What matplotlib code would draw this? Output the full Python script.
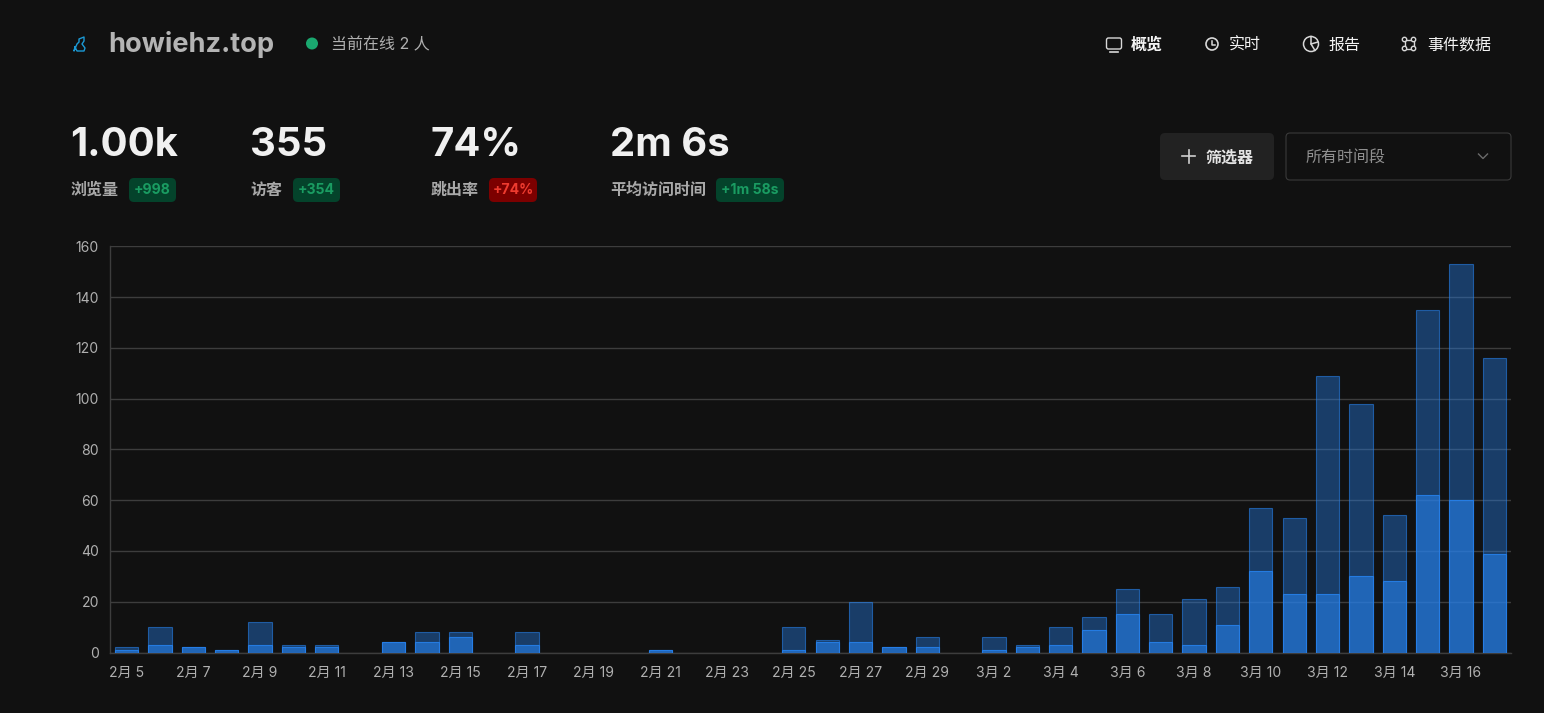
import matplotlib
matplotlib.use('Agg')
import matplotlib.pyplot as plt
import numpy as np
from matplotlib.patches import FancyBboxPatch, Circle, Rectangle

plt.rcParams['font.family'] = ['Inter', 'Noto Sans CJK SC', 'DejaVu Sans']

days = ['2月 %d' % d for d in range(5, 30)] + ['3月 %d' % d for d in range(1, 18)]
views = [2, 10, 2, 1, 12, 3, 3, 0, 4, 8, 8, 0, 8, 0, 0, 0, 1, 0, 0, 0, 10, 5, 20, 2, 6,
         0, 6, 3, 10, 14, 25, 15, 21, 26, 57, 53, 109, 98, 54, 135, 153, 116]
visitors = [1, 3, 2, 1, 3, 2, 2, 0, 4, 4, 6, 0, 3, 0, 0, 0, 1, 0, 0, 0, 1, 4, 4, 2, 2,
            0, 1, 2, 3, 9, 15, 4, 3, 11, 32, 23, 23, 30, 28, 62, 60, 39]
y_ticks = [0, 20, 40, 60, 80, 100, 120, 140, 160]

site = 'howiehz.top'
online = '当前在线 2 人'
stat_values = ['1.00k', '355', '74%', '2m 6s']
stat_names = ['浏览量', '访客', '跳出率', '平均访问时间']
stat_changes = ['+998', '+354', '+74%', '+1m 58s']
nav_items = ['概览', '实时', '报告', '事件数据']
filter_text = '筛选器'
range_text = '所有时间段'

W, H = 1544, 713
BG = '#111111'
GRID = '#3d3d3d'
px = 0.72  # css px to pt at dpi 100

fig = plt.figure(figsize=(W / 100, H / 100), dpi=100, facecolor=BG)

# chart
ax = fig.add_axes([110 / W, 1 - 652.5 / H, 1401 / W, 406 / H], facecolor=BG)
x = np.arange(len(days))
lw_views = [0.8 if v > 0 else 0 for v in views]
lw_visitors = [0.8 if v > 0 else 0 for v in visitors]
ax.bar(x, views, width=0.7, color=(0.15, 0.5, 0.92, 0.4), edgecolor=(0.15, 0.5, 0.92, 0.6),
       linewidth=lw_views, zorder=2)
ax.bar(x, visitors, width=0.7, color=(0.15, 0.5, 0.92, 0.6), edgecolor=(0.15, 0.5, 0.92, 0.9),
       linewidth=lw_visitors, zorder=3)
ax.set_xlim(-0.5, len(days) - 0.5)
ax.set_ylim(0, 160)
ax.set_yticks(y_ticks)
ax.set_xticks(x[::2])
ax.set_xticklabels(days[::2])
ax.grid(axis='y', color=GRID, linewidth=1, zorder=1)
ax.set_axisbelow(True)
ax.tick_params(axis='x', length=0, pad=9.5, labelsize=14 * px, labelcolor='#b0b0b0')
ax.tick_params(axis='y', length=0, pad=8, labelsize=14 * px, labelcolor='#b0b0b0')
for s in ['top', 'right']:
    ax.spines[s].set_visible(False)
for s in ['left', 'bottom']:
    ax.spines[s].set_color(GRID)
    ax.spines[s].set_linewidth(1)

# page furniture, drawn in pixel coordinates
ui = fig.add_axes([0, 0, 1, 1], facecolor='none')
ui.set_xlim(0, W)
ui.set_ylim(H, 0)
ui.axis('off')


def box(x0, y0, x1, y1, fc, ec='none', r=5, lw=1):
    ui.add_patch(FancyBboxPatch((x0, y0), x1 - x0, y1 - y0, boxstyle='round,pad=0,rounding_size=%d' % r,
                                fc=fc, ec=ec, lw=lw))


def label(x0, y0, s, size, color, weight='normal', ha='left'):
    ui.text(x0, y0, s, fontsize=size * px, color=color, fontweight=weight, ha=ha, va='center')


# logo
ui.plot([75, 74, 77, 79, 79, 84, 84, 82, 85, 84, 77, 75], [47, 51, 44, 42, 39, 37, 41, 44, 48, 51, 51, 47],
        color='#1b9ad6', lw=1)
label(108.5, 45, site, 27.2, '#b4b4b4', 'bold')
ui.add_patch(Circle((312, 43.5), 6, fc='#1aa86f', ec='none'))
label(331, 44.5, online, 16, '#b0b0b0')

# stats row
stat_x = [70, 250, 430, 610]
badge_x = [(129, 176), (293, 340), (489, 537), (716, 784)]
badge_fc = ['#04432b', '#04432b', '#7c0000', '#04432b']
badge_tc = ['#1a9c62', '#1a9c62', '#ee3b2f', '#1a9c62']
for i in range(4):
    label(stat_x[i], 145, stat_values[i], 40, '#f0f0f0', 'bold')
    label(stat_x[i] + 0.5, 190.5, stat_names[i], 16, '#a8a8a8', 'bold')
    box(badge_x[i][0], 178, badge_x[i][1], 202, badge_fc[i])
    label(sum(badge_x[i]) / 2, 190, stat_changes[i], 14, badge_tc[i], 'bold', ha='center')

# nav
nav_x = [1131, 1229, 1328, 1427]
nav_w = ['bold', 'normal', 'normal', 'normal']
for i in range(4):
    label(nav_x[i], 45.5, nav_items[i], 16, '#f4f4f4', nav_w[i])
ic = '#d8d8d8'
box(1106.5, 38, 1121.5, 49, 'none', ic, r=2)
ui.plot([1110, 1118], [51.5, 51.5], color=ic, lw=1.2)
ui.add_patch(Circle((1212, 44), 6, fc='none', ec=ic, lw=1.2))
ui.plot([1212, 1212, 1215], [40.5, 44.5, 44.5], color=ic, lw=1.1)
ui.add_patch(Circle((1311, 44), 7.5, fc='none', ec=ic, lw=1.1))
ui.plot([1311, 1311, 1318], [36.5, 44, 42], color=ic, lw=1.1)
ui.plot([1311, 1315], [44, 50.5], color=ic, lw=1.1)
for cx in (1404.5, 1413.5):
    for cy in (39.5, 48.5):
        ui.add_patch(Circle((cx, cy), 2.2, fc=BG, ec=ic, lw=1, zorder=4))
ui.add_patch(Rectangle((1404.5, 39.5), 9, 9, fc='none', ec=ic, lw=1, zorder=3))

# filter button and range select
box(1160, 133, 1274, 180, '#222222')
ui.plot([1182, 1195], [156, 156], color='#d0d0d0', lw=1.2)
ui.plot([1188.5, 1188.5], [149.5, 162.5], color='#d0d0d0', lw=1.2)
label(1206, 158, filter_text, 16, '#e4e4e4', 'bold')
box(1286, 133, 1511, 180, BG, '#3a3a3a', r=4, lw=0.8)
label(1306, 157, range_text, 16, '#909090')
ui.plot([1478.5, 1483, 1487.5], [154, 158.5, 154], color='#6a6a6a', lw=1)

fig.savefig('out.png', dpi=100, facecolor=BG)
